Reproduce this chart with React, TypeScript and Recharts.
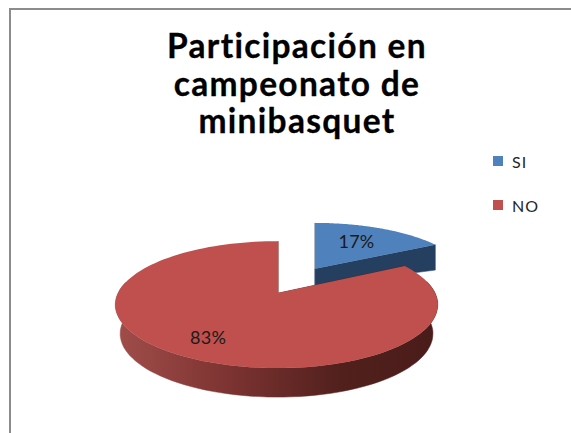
import React from "react";
import { PieChart, Pie, Legend } from "recharts";

const categories = ["SI", "NO"];
const shares = [17, 83];
const topColors = ["#4f81bd", "#c0504d"];
const titleLines = ["Participación en", "campeonato de", "minibasquet"];

const pieData = categories.map((name, i) => ({ name, value: shares[i], fill: topColors[i] }));

const FONT = "Lato, 'Open Sans', sans-serif";

// fake 3D: perspective tilt of the unit circle, applied to the angles recharts hands over
const TILT_Y = 0.391;
const PERSPECTIVE = 0.181;
const EXPLODE = 0.226;

const look: Record<string, any> = {
  SI: { scaleX: 0.95, scaleY: 0.88, leftX: 1, depth: 17, bottomX: 1, bottomY: 0.65, wall: "#243f5f", labelAt: 0.63 },
  NO: { scaleX: 1, scaleY: 1, leftX: 1.02, depth: 29, bottomX: 0.97, bottomY: 1, wall: "url(#redWall)", labelAt: 0.74 },
};

const project = (angle: number, r: number) => {
  const rad = (angle * Math.PI) / 180;
  const u = Math.cos(rad);
  const v = Math.sin(rad);
  const w = 1 + PERSPECTIVE * v;
  return { x: (r * u) / w, y: (-r * TILT_Y * v) / w };
};

const apexOf = (cx: number, cy: number, mid: number, r: number) => {
  const p = project(mid, r * EXPLODE);
  return { x: cx + p.x, y: cy + p.y };
};

const toPath = (pts: { x: number; y: number }[]) =>
  pts.map((p, i) => `${i ? "L" : "M"}${p.x.toFixed(1)} ${p.y.toFixed(1)}`).join(" ") + " Z";

const Slice3D = (props: any) => {
  const { cx, cy, startAngle, endAngle, midAngle, outerRadius, fill } = props;
  const name = props.payload?.name ?? props.name;
  const cfg = look[name];
  const apex = apexOf(cx, cy, midAngle, outerRadius);

  const face = (a: number) => {
    const p = project(a, outerRadius);
    return { x: p.x * cfg.scaleX * (p.x < 0 ? cfg.leftX : 1), y: p.y * cfg.scaleY };
  };
  const top = (a: number) => {
    const p = face(a);
    return { x: apex.x + p.x, y: apex.y + p.y };
  };
  const bottom = (a: number) => {
    const p = face(a);
    return { x: apex.x + p.x * cfg.bottomX, y: apex.y + cfg.depth + p.y * cfg.bottomY };
  };

  const angles: number[] = [];
  for (let i = 0; i <= 120; i++) angles.push(startAngle + ((endAngle - startAngle) * i) / 120);
  const front = angles.filter((a) => Math.sin((a * Math.PI) / 180) < 0.2);

  const apexBottom = { x: apex.x, y: apex.y + cfg.depth };
  const walls: string[] = [
    toPath([apex, top(startAngle), bottom(startAngle), apexBottom]),
    toPath([apex, top(endAngle), bottom(endAngle), apexBottom]),
  ];
  if (front.length > 1) walls.push(toPath([...front.map(top), ...[...front].reverse().map(bottom)]));

  return (
    <g>
      <defs>
        <linearGradient id="redWall" gradientUnits="userSpaceOnUse" x1="118" y1="0" x2="436" y2="0">
          <stop offset="0" stopColor="#a04d4a" />
          <stop offset="0.35" stopColor="#7c3331" />
          <stop offset="0.7" stopColor="#51201d" />
          <stop offset="1" stopColor="#4a1c19" />
        </linearGradient>
      </defs>
      {walls.map((d, i) => (
        <path key={i} d={d} fill={cfg.wall} stroke={cfg.wall} strokeWidth={0.5} />
      ))}
      <path d={toPath([apex, ...angles.map(top)])} fill={fill} />
    </g>
  );
};

const renderLabel = (props: any) => {
  const { cx, cy, midAngle, outerRadius, percent, name } = props;
  const cfg = look[name];
  const apex = apexOf(cx, cy, midAngle, outerRadius);
  const p = project(midAngle, outerRadius * cfg.labelAt);
  return (
    <text
      x={apex.x + p.x * cfg.scaleX}
      y={apex.y + p.y * cfg.scaleY - 2}
      textAnchor="middle"
      dominantBaseline="central"
      fontFamily={FONT}
      fontSize={18}
      letterSpacing={0.3}
      fill="#1a1a1a"
    >
      {`${Math.round(percent * 100)}%`}
    </text>
  );
};

const renderLegend = (props: any) => (
  <div style={{ fontFamily: FONT, fontSize: 16, letterSpacing: 1, color: "#262626" }}>
    {props.payload.map((entry: any) => (
      <div key={entry.value} style={{ display: "flex", alignItems: "center", height: 44 }}>
        <span style={{ width: 10, height: 10, background: entry.color, marginRight: 9 }} />
        {entry.value}
      </div>
    ))}
  </div>
);

export default function App() {
  return (
    <div style={{ position: "absolute", left: 0, top: 0, width: 571, height: 433, overflow: "hidden", background: "#fff" }}>
      <div
        style={{
          position: "absolute",
          left: 9,
          top: 8,
          width: 700,
          height: 600,
          borderLeft: "2px solid #8c8c8c",
          borderTop: "2px solid #8c8c8c",
        }}
      />
      <PieChart
        width={571}
        height={433}
        margin={{ top: 0, right: 0, bottom: 0, left: 0 }}
        style={{ position: "absolute", left: 0, top: 0 }}
      >
        {titleLines.map((line, i) => (
          <text
            key={line}
            x={297}
            y={45 + i * 37.5}
            textAnchor="middle"
            dominantBaseline="central"
            fontFamily={FONT}
            fontWeight={700}
            fontSize={33.5}
            letterSpacing={1.3}
            stroke="#000"
            strokeWidth={0.3}
            fill="#000"
          >
            {line}
          </text>
        ))}
        <Pie
          data={pieData}
          dataKey="value"
          nameKey="name"
          cx={299.5}
          cy={279}
          outerRadius={157}
          startAngle={90}
          endAngle={-270}
          stroke="none"
          shape={Slice3D}
          label={renderLabel}
          labelLine={false}
          isAnimationActive={false}
        />
        <Legend
          layout="vertical"
          content={renderLegend}
          itemSorter={null}
          wrapperStyle={{ position: "absolute", left: 493, top: 139, width: 70, bottom: "auto" }}
        />
      </PieChart>
    </div>
  );
}
